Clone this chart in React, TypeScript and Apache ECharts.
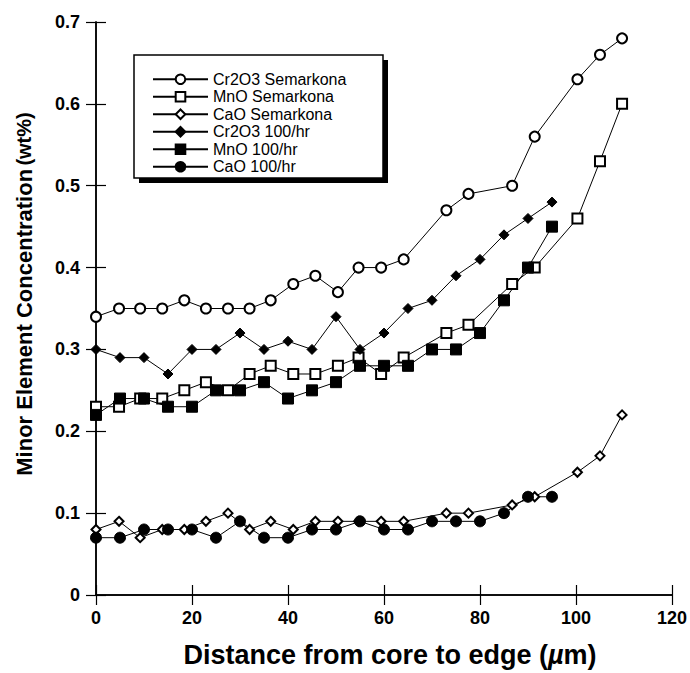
import React, { useEffect, useRef } from "react";
import * as echarts from "echarts";

const SEM_X = [0, 4.8, 9.2, 13.8, 18.4, 22.9, 27.5, 32, 36.4, 41.1, 45.7, 50.4, 54.7, 59.4, 64.1, 73, 77.6, 86.7, 91.4, 100.3, 105, 109.6];
const CR_SEM = [0.34, 0.35, 0.35, 0.35, 0.36, 0.35, 0.35, 0.35, 0.36, 0.38, 0.39, 0.37, 0.4, 0.4, 0.41, 0.47, 0.49, 0.5, 0.56, 0.63, 0.66, 0.68];
const MN_SEM = [0.23, 0.23, 0.24, 0.24, 0.25, 0.26, 0.25, 0.27, 0.28, 0.27, 0.27, 0.28, 0.29, 0.27, 0.29, 0.32, 0.33, 0.38, 0.4, 0.46, 0.53, 0.6];
const CA_SEM = [0.08, 0.09, 0.07, 0.08, 0.08, 0.09, 0.1, 0.08, 0.09, 0.08, 0.09, 0.09, 0.09, 0.09, 0.09, 0.1, 0.1, 0.11, 0.12, 0.15, 0.17, 0.22];

const RATE_X = [0, 5, 10, 15, 20, 25, 30, 35, 40, 45, 50, 55, 60, 65, 70, 75, 80, 85, 90, 95];
const CR_100 = [0.3, 0.29, 0.29, 0.27, 0.3, 0.3, 0.32, 0.3, 0.31, 0.3, 0.34, 0.3, 0.32, 0.35, 0.36, 0.39, 0.41, 0.44, 0.46, 0.48];
const MN_100 = [0.22, 0.24, 0.24, 0.23, 0.23, 0.25, 0.25, 0.26, 0.24, 0.25, 0.26, 0.28, 0.28, 0.28, 0.3, 0.3, 0.32, 0.36, 0.4, 0.45];
const CA_100 = [0.07, 0.07, 0.08, 0.08, 0.08, 0.07, 0.09, 0.07, 0.07, 0.08, 0.08, 0.09, 0.08, 0.08, 0.09, 0.09, 0.09, 0.1, 0.12, 0.12];

const SERIES_NAMES = ["Cr2O3 Semarkona", "MnO Semarkona", "CaO Semarkona", "Cr2O3 100/hr", "MnO 100/hr", "CaO 100/hr"];
const X_TICKS = [0, 120, 20];
const Y_TICKS = [0, 0.7, 0.1];

const FONT = "'Liberation Sans', Arial, Helvetica, sans-serif";

function pairs(xs: number[], ys: number[]) {
  return xs.map((x, i) => [x, ys[i]]);
}

export default function App() {
  const ref = useRef<HTMLDivElement>(null);
  useEffect(() => {
    if (!ref.current) return;
    const chart = echarts.init(ref.current, undefined, { renderer: "svg" });
    const mk = (name: string, xs: number[], ys: number[], symbol: string, size: number) => ({
      name,
      type: "line",
      data: pairs(xs, ys),
      symbol,
      symbolSize: size,
      showAllSymbol: true,
      lineStyle: { color: "#000", width: 1 },
      itemStyle: { color: "#000", borderColor: "#000", borderWidth: 1 },
      emphasis: { disabled: true },
      z: 3,
    });
    const axisCommon = {
      axisLine: { show: true, lineStyle: { color: "#000", width: 1.5 } },
      axisTick: { show: true, inside: true, length: 10, lineStyle: { color: "#000", width: 1.2 } },
      splitLine: { show: false },
    };
    const labelStyle = { color: "#000", fontFamily: FONT, fontWeight: "bold", fontSize: 18 };
    chart.setOption({
      animation: false,
      backgroundColor: "#fff",
      grid: { left: 96, right: 17, top: 22, bottom: 78 },
      xAxis: [
        {
          ...axisCommon,
          type: "value",
          position: "bottom",
          min: X_TICKS[0],
          max: X_TICKS[1],
          interval: X_TICKS[2],
          axisLabel: { ...labelStyle, margin: 14 },
        },
        {
          ...axisCommon,
          type: "value",
          position: "top",
          min: X_TICKS[0],
          max: X_TICKS[1],
          interval: X_TICKS[2],
          axisLabel: { show: false },
        },
      ],
      yAxis: [
        {
          ...axisCommon,
          type: "value",
          position: "left",
          min: Y_TICKS[0],
          max: Y_TICKS[1],
          interval: Y_TICKS[2],
          axisLabel: {
            ...labelStyle,
            margin: 16,
            formatter: (v: number) => (v === 0 ? "0" : v.toFixed(1)),
          },
        },
        {
          ...axisCommon,
          type: "value",
          position: "right",
          min: Y_TICKS[0],
          max: Y_TICKS[1],
          interval: Y_TICKS[2],
          axisLabel: { show: false },
        },
      ],
      legend: {
        show: true,
        orient: "vertical",
        left: 147,
        top: 66,
        itemWidth: 55,
        itemHeight: 12,
        itemGap: 1,
        selectedMode: false,
        data: SERIES_NAMES,
        textStyle: { color: "#000", fontFamily: FONT, fontSize: 16, lineHeight: 16.5 },
        z: 10,
      },
      graphic: [
        {
          type: "rect",
          z: 5,
          shape: { x: 139, y: 60, width: 249, height: 123 },
          style: { fill: "#000" },
        },
        {
          type: "rect",
          z: 6,
          shape: { x: 134, y: 55, width: 249, height: 123 },
          style: { fill: "#fff", stroke: "#000", lineWidth: 1.5 },
        },
        {
          type: "text",
          x: 24,
          y: 294,
          rotation: Math.PI / 2,
          style: {
            text: "{b|Minor Element Concentration} {s|(wt%)}",
            align: "center",
            verticalAlign: "middle",
            fill: "#000",
            rich: {
              b: { fontFamily: FONT, fontWeight: "bold", fontSize: 22, fill: "#000" },
              s: { fontFamily: FONT, fontWeight: "bold", fontSize: 20, fill: "#000" },
            },
          },
        },
        {
          type: "text",
          x: 390,
          y: 655,
          style: {
            text: "{a|Distance from core to edge (}{m|µ}{a|m)}",
            align: "center",
            verticalAlign: "middle",
            fill: "#000",
            rich: {
              a: { fontFamily: FONT, fontWeight: "bold", fontSize: 27, fill: "#000" },
              m: { fontFamily: FONT, fontWeight: "bold", fontStyle: "italic", fontSize: 27, fill: "#000" },
            },
          },
        },
      ],
      series: [
        mk(SERIES_NAMES[0], SEM_X, CR_SEM, "emptyCircle", 10),
        mk(SERIES_NAMES[1], SEM_X, MN_SEM, "emptyRect", 10),
        mk(SERIES_NAMES[2], SEM_X, CA_SEM, "emptyDiamond", 9),
        mk(SERIES_NAMES[3], RATE_X, CR_100, "diamond", 10),
        mk(SERIES_NAMES[4], RATE_X, MN_100, "rect", 11),
        mk(SERIES_NAMES[5], RATE_X, CA_100, "circle", 11),
      ],
    });
    return () => chart.dispose();
  }, []);
  return (
    <div
      ref={ref}
      style={{ position: "absolute", left: 0, top: 0, width: 690, height: 673 }}
    />
  );
}
